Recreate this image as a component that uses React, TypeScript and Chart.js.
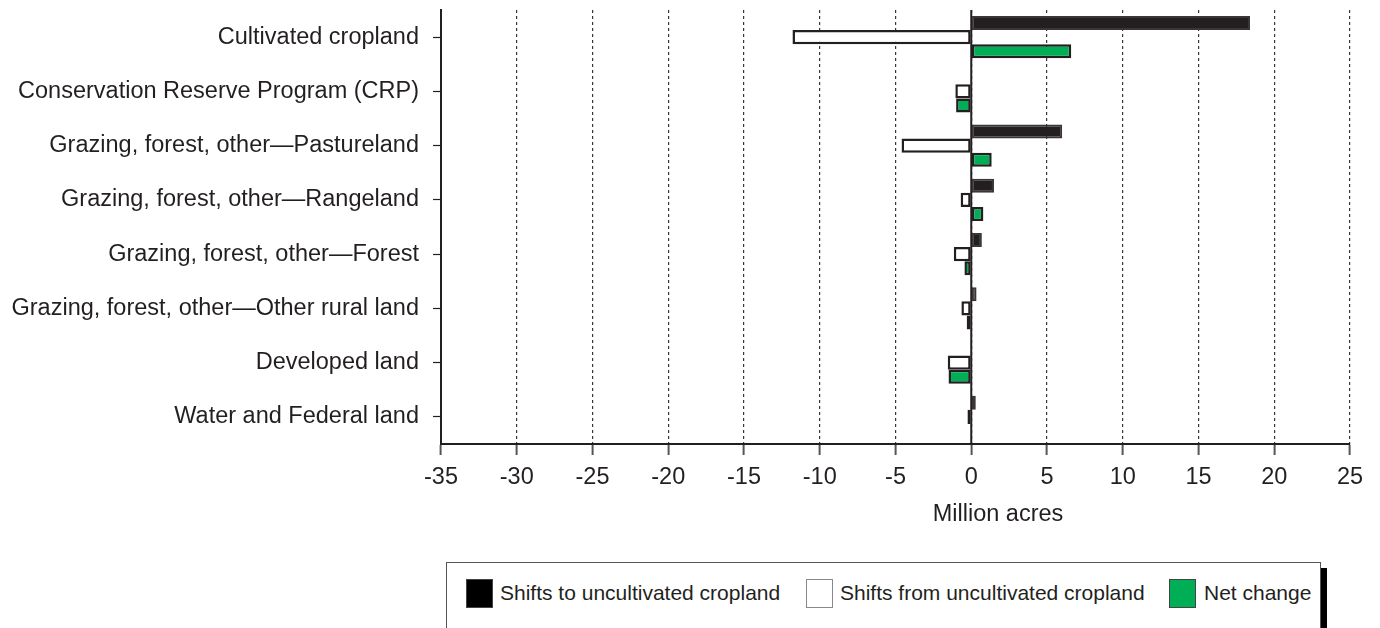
import React, { useEffect, useRef } from "react";
import { Chart, registerables } from "chart.js";

Chart.register(...registerables);

const categories = [
  "Cultivated cropland",
  "Conservation Reserve Program (CRP)",
  "Grazing, forest, other\u2014Pastureland",
  "Grazing, forest, other\u2014Rangeland",
  "Grazing, forest, other\u2014Forest",
  "Grazing, forest, other\u2014Other rural land",
  "Developed land",
  "Water and Federal land",
];

const shiftsTo = [18.4, 0.05, 6.0, 1.5, 0.7, 0.35, 0.05, 0.3];
const shiftsFrom = [-11.8, -1.05, -4.6, -0.7, -1.15, -0.65, -1.55, -0.25];
const netChange = [6.6, -1.0, 1.35, 0.8, -0.45, -0.3, -1.5, 0.05];

const seriesNames = ["Shifts to uncultivated cropland", "Shifts from uncultivated cropland", "Net change"];
const xTicks = [-35, -30, -25, -20, -15, -10, -5, 0, 5, 10, 15, 20, 25];
const axisTitle = "Million acres";

const INK = "#231f20";
const GREEN = "#00ae55";
const FONT = "'Liberation Sans', Arial, Helvetica, sans-serif";

const zeroLinePlugin = {
  id: "zeroLine",
  beforeDatasetsDraw(chart: any) {
    const { ctx, chartArea, scales } = chart;
    const x = scales.x.getPixelForValue(0);
    ctx.save();
    ctx.strokeStyle = INK;
    ctx.lineWidth = 2;
    ctx.beginPath();
    ctx.moveTo(x, chartArea.top);
    ctx.lineTo(x, chartArea.bottom);
    ctx.stroke();
    ctx.restore();
  },
  afterDraw(chart: any) {
    const { ctx } = chart;
    ctx.save();
    ctx.fillStyle = INK;
    ctx.font = `23.5px ${FONT}`;
    ctx.textAlign = "center";
    ctx.textBaseline = "middle";
    ctx.fillText(axisTitle, 998, 515);
    ctx.restore();
  },
};

export default function App() {
  const ref = useRef<HTMLCanvasElement | null>(null);

  useEffect(() => {
    if (!ref.current) return;
    const chart = new Chart(ref.current, {
      type: "bar",
      data: {
        labels: categories,
        datasets: [
          {
            label: seriesNames[0],
            data: shiftsTo,
            backgroundColor: INK,
            borderColor: "#3a3637",
            borderWidth: 2,
            borderSkipped: false,
          },
          {
            label: seriesNames[1],
            data: shiftsFrom,
            backgroundColor: "#ffffff",
            borderColor: INK,
            borderWidth: 2.5,
            borderSkipped: false,
          },
          {
            label: seriesNames[2],
            data: netChange,
            backgroundColor: GREEN,
            borderColor: INK,
            borderWidth: 2.5,
            borderSkipped: false,
          },
        ],
      },
      options: {
        indexAxis: "y",
        responsive: false,
        animation: false,
        maintainAspectRatio: false,
        layout: { padding: { left: 0, right: 30, top: 10, bottom: 0 } },
        datasets: {
          bar: { categoryPercentage: 0.78, barPercentage: 1 },
        },
        plugins: {
          legend: { display: false },
          tooltip: { enabled: false },
        },
        scales: {
          x: {
            type: "linear",
            min: -35,
            max: 25,
            afterBuildTicks: (s: any) => {
              s.ticks = xTicks.map((v) => ({ value: v }));
            },
            afterFit: (s: any) => {
              s.height = 96;
            },
            ticks: {
              color: INK,
              font: { family: FONT, size: 23.5 },
              padding: 8,
              maxRotation: 0,
              autoSkip: false,
            },
            grid: {
              color: "#3a3637",
              lineWidth: 1.2,
              tickLength: 11,
              tickColor: "#555",
              tickWidth: 2,
            },
            border: { display: true, color: INK, width: 2, dash: [3, 3] },
          },
          y: {
            type: "category",
            afterFit: (s: any) => {
              s.width = 441;
              s.paddingTop = 0;
              s.paddingBottom = 0;
            },
            ticks: {
              color: INK,
              font: { family: FONT, size: 23.5 },
              padding: 14,
              autoSkip: false,
            },
            grid: {
              drawOnChartArea: false,
              drawTicks: true,
              tickLength: 8,
              offset: false,
              tickColor: INK,
              tickWidth: 1.2,
            },
            border: { display: true, color: INK, width: 2 },
          },
        },
      },
      plugins: [zeroLinePlugin],
    } as any);
    return () => chart.destroy();
  }, []);

  const legendText: React.CSSProperties = {
    position: "absolute",
    top: 578,
    height: 30,
    lineHeight: "30px",
    fontFamily: FONT,
    fontSize: 21,
    color: INK,
    whiteSpace: "nowrap",
  };
  const swatch = (left: number, bg: string, border: string): React.CSSProperties => ({
    position: "absolute",
    left,
    top: 579,
    width: 27,
    height: 29,
    boxSizing: "border-box",
    background: bg,
    border: `1px solid ${border}`,
  });

  return (
    <div style={{ position: "absolute", left: 0, top: 0, width: 1380, height: 628, overflow: "hidden", background: "#fff" }}>
      <canvas ref={ref} width={1380} height={540} style={{ position: "absolute", left: 0, top: 0, width: 1380, height: 540 }} />
      <div
        style={{
          position: "absolute",
          left: 446,
          top: 562,
          width: 875,
          height: 90,
          boxSizing: "border-box",
          border: "1px solid #555",
          background: "#fff",
          boxShadow: "6px 6px 0 #000",
        }}
      />
      <div style={swatch(466, "#000", "#444")} />
      <div style={{ ...legendText, left: 500 }}>{seriesNames[0]}</div>
      <div style={swatch(806, "#fff", "#888")} />
      <div style={{ ...legendText, left: 840 }}>{seriesNames[1]}</div>
      <div style={swatch(1169, GREEN, "#444")} />
      <div style={{ ...legendText, left: 1204 }}>{seriesNames[2]}</div>
    </div>
  );
}
